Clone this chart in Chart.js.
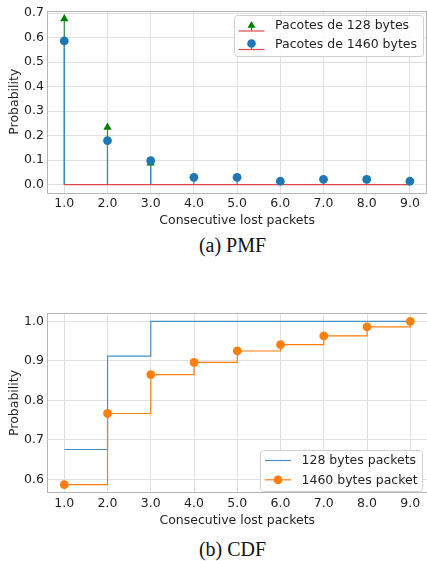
<!DOCTYPE html>
<html>
<head>
<meta charset="utf-8">
<script src="https://cdn.jsdelivr.net/npm/chart.js@4/dist/chart.umd.min.js"></script>
<style>
  html, body { margin: 0; padding: 0; background: #fff; }
  body { width: 427px; height: 561px; overflow: hidden; position: relative; }
  canvas { position: absolute; left: 0; }
  #pmf { top: 0; }
  #cdf { top: 300px; }
  .caption {
    position: absolute; left: 0; width: 465px; text-align: center;
    font-family: "Liberation Serif", serif; font-size: 20px; line-height: 20px; color: #111;
  }
</style>
</head>
<body>
<canvas id="pmf" width="432" height="228"></canvas>
<div class="caption" style="top:235px">(a) PMF</div>
<canvas id="cdf" width="432" height="228"></canvas>
<div class="caption" style="top:539px">(b) CDF</div>
<script>
// x values: number of consecutive lost packets
const lostPackets = [1, 2, 3, 4, 5, 6, 7, 8, 9];

// PMF (128 bytes only has mass at 1..3)
const pmfX128 = [1, 2, 3];
const pmf128 = [0.677, 0.234, 0.088];
const pmf1460 = [0.587, 0.180, 0.098, 0.030, 0.030, 0.014, 0.022, 0.022, 0.014];

// CDF
const cdf128 = [0.676, 0.912, 1.0, 1.0, 1.0, 1.0, 1.0, 1.0, 1.0];
const cdf1460 = [0.587, 0.767, 0.865, 0.896, 0.925, 0.941, 0.963, 0.986, 1.0];

// tick labels
const pmfYTicks = [0.0, 0.1, 0.2, 0.3, 0.4, 0.5, 0.6, 0.7];
const cdfYTicks = [0.6, 0.7, 0.8, 0.9, 1.0];

const FONT = { family: 'DejaVu Sans', size: 12.5 };
const TXT = '#1f1f1f';
const BLUE = '#1f77b4', ORANGE = '#ff7f0e', GREEN = '#008000', RED = '#d62728';

// stems: (x,0) -> (x,y) then a gap
function stems(xs, ys) {
    const out = [];
    xs.forEach((x, i) => { out.push({ x: x, y: 0 }, { x: x, y: ys[i] }, { x: x, y: null }); });
    return out;
}
const pts = (xs, ys) => xs.map((x, i) => ({ x: x, y: ys[i] }));

// frame around the plot area (matplotlib spines)
const framePlugin = {
    id: 'frame',
    beforeDatasetsDraw(chart) {
        const { ctx, chartArea: a } = chart;
        ctx.save();
        ctx.strokeStyle = '#b5b5b5';
        ctx.lineWidth = 1;
        ctx.strokeRect(Math.round(a.left) + 0.5, Math.round(a.top) + 0.5,
            Math.round(a.right - a.left) - 1, Math.round(a.bottom - a.top) - 1);
        ctx.restore();
    }
};

// legend box drawn inside the axes
const boxLegend = {
    id: 'boxLegend',
    afterDraw(chart, args, o) {
        const { ctx } = chart;
        ctx.save();
        ctx.beginPath();
        ctx.roundRect(o.x + 0.5, o.y + 0.5, o.w, o.h, 3);
        ctx.fillStyle = 'rgba(255,255,255,0.85)';
        ctx.fill();
        ctx.strokeStyle = '#d0d0d0';
        ctx.lineWidth = 1;
        ctx.stroke();
        ctx.font = FONT.size + 'px "' + FONT.family + '"';
        ctx.textBaseline = 'middle';
        ctx.fillStyle = TXT;
        o.items.forEach((it, i) => {
            const y = o.y + o.first + i * o.step;
            const x0 = o.x + o.symX, x1 = x0 + 26, xm = (x0 + x1) / 2;
            ctx.lineWidth = 1.2;
            if (it.kind === 'stem') {
                ctx.strokeStyle = it.stem;
                ctx.beginPath(); ctx.moveTo(xm, y); ctx.lineTo(xm, y + 5); ctx.stroke();
                ctx.strokeStyle = '#e04848';
                ctx.beginPath(); ctx.moveTo(x0, y + 5.5); ctx.lineTo(x1, y + 5.5); ctx.stroke();
                ctx.fillStyle = it.color;
                ctx.beginPath();
                if (it.marker === 'triangle') {
                    ctx.moveTo(xm, y - 4.5); ctx.lineTo(xm + 4, y + 2.3); ctx.lineTo(xm - 4, y + 2.3);
                } else {
                    ctx.arc(xm, y - 0.5, 4.3, 0, Math.PI * 2);
                }
                ctx.fill();
            } else {
                ctx.strokeStyle = it.color;
                ctx.beginPath(); ctx.moveTo(x0, y); ctx.lineTo(x1, y); ctx.stroke();
                if (it.marker) {
                    ctx.fillStyle = it.color;
                    ctx.beginPath(); ctx.arc(xm, y, 4.4, 0, Math.PI * 2); ctx.fill();
                }
            }
            ctx.fillStyle = TXT;
            ctx.fillText(it.label, o.x + o.textX, y + 0.5);
        });
        ctx.restore();
    }
};

function xScale() {
    return {
        type: 'linear', min: 0.6, max: 9.4,
        afterBuildTicks: s => { s.ticks = lostPackets.map(v => ({ value: v })); },
        afterFit: s => { s.height = 35; },
        ticks: { color: TXT, font: FONT, padding: 3, maxRotation: 0, autoSkip: false, callback: v => v.toFixed(1) },
        grid: { color: '#e0e0e0', drawTicks: false },
        border: { display: false },
        title: { display: true, text: 'Consecutive lost packets', color: TXT, font: FONT, padding: { top: 3.5, bottom: 0 } }
    };
}
function yScale(min, max, ticks) {
    return {
        min: min, max: max,
        afterBuildTicks: s => { s.ticks = ticks.map(v => ({ value: v })); },
        afterFit: s => { s.width = 47; },
        ticks: { color: TXT, font: FONT, padding: 3, callback: v => v.toFixed(1) },
        grid: { color: '#e0e0e0', drawTicks: false },
        border: { display: false },
        title: { display: true, text: 'Probability', color: TXT, font: FONT, padding: { top: 7, bottom: 0 } }
    };
}

const common = {
    responsive: false,
    animation: false,
    events: [],
    plugins: { legend: { display: false }, tooltip: { enabled: false } }
};

new Chart(document.getElementById('pmf'), {
    type: 'line',
    data: {
        datasets: [
            { data: stems(pmfX128, pmf128), borderColor: '#2f8a3a', borderWidth: 1.2, pointRadius: 0, spanGaps: false, order: 6 },
            { data: stems(lostPackets, pmf1460), borderColor: '#3d8cc4', borderWidth: 1.2, pointRadius: 0, spanGaps: false, order: 5 },
            { data: pts(pmfX128, pmf128), showLine: false, pointStyle: 'triangle', pointRadius: 4.8, backgroundColor: GREEN, borderColor: GREEN, borderWidth: 0, order: 4 },
            { data: pts([lostPackets[0], lostPackets[lostPackets.length - 1]], [0, 0]), borderColor: '#e04848', borderWidth: 1.2, pointRadius: 0, order: 3 },
            { data: pts(lostPackets, pmf1460), showLine: false, pointStyle: 'circle', pointRadius: 4.4, backgroundColor: BLUE, borderColor: BLUE, borderWidth: 0, order: 2 }
        ]
    },
    options: Object.assign({}, common, {
        layout: { padding: { left: 0, right: 1, top: 9, bottom: 0 } },
        scales: { x: xScale(), y: yScale(-0.034, 0.711, pmfYTicks) },
        plugins: Object.assign({}, common.plugins, {
            boxLegend: {
                x: 234, y: 15, w: 189, h: 41, symX: 4.5, textX: 41, first: 10.5, step: 18.5,
                items: [
                    { kind: 'stem', marker: 'triangle', color: GREEN, stem: GREEN, label: 'Pacotes de 128 bytes' },
                    { kind: 'stem', marker: 'circle', color: BLUE, stem: BLUE, label: 'Pacotes de 1460 bytes' }
                ]
            }
        })
    }),
    plugins: [framePlugin, boxLegend]
});

new Chart(document.getElementById('cdf'), {
    type: 'line',
    data: {
        datasets: [
            { data: pts(lostPackets, cdf128), borderColor: '#4a8fc2', borderWidth: 1.2, pointRadius: 0, stepped: true, order: 2 },
            { data: pts(lostPackets, cdf1460), borderColor: ORANGE, borderWidth: 1.2, pointRadius: 4.4, pointBackgroundColor: ORANGE, pointBorderWidth: 0, stepped: true, order: 1 }
        ]
    },
    options: Object.assign({}, common, {
        layout: { padding: { left: 0, right: 1, top: 13, bottom: 0 } },
        scales: { x: xScale(), y: yScale(0.566, 1.021, cdfYTicks) },
        plugins: Object.assign({}, common.plugins, {
            boxLegend: {
                x: 260, y: 150, w: 162, h: 41, symX: 5, textX: 41.5, first: 10.5, step: 19.3,
                items: [
                    { kind: 'line', color: '#4a8fc2', label: '128 bytes packets' },
                    { kind: 'line', color: ORANGE, marker: true, label: '1460 bytes packet' }
                ]
            }
        })
    }),
    plugins: [framePlugin, boxLegend]
});
</script>
</body>
</html>
